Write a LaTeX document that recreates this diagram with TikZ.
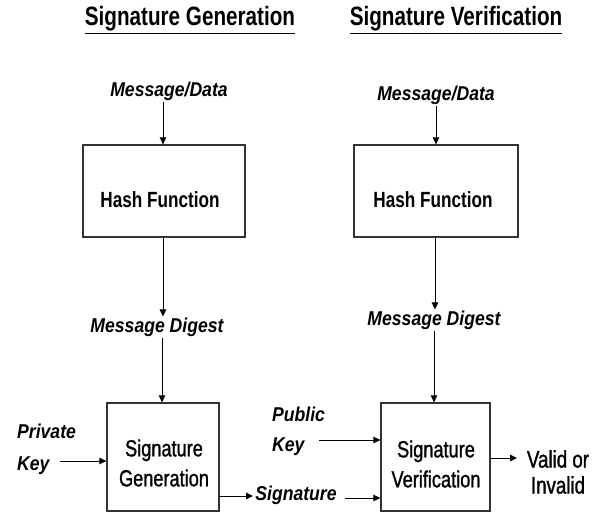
\documentclass[tikz,border=0pt]{standalone}
\usepackage{fontspec}
\setmainfont{Liberation Sans}[FakeStretch=0.78]
\newfontfamily\medfont{Liberation Sans}[FakeStretch=0.78,FakeBold=1.2]
\newfontfamily\lblfont{Liberation Sans}[FakeStretch=0.88]
\usetikzlibrary{arrows.meta}
\begin{document}
\begin{tikzpicture}[x=1pt,y=-1pt,
  box/.style={draw=black!80,line width=1.3pt,inner sep=0pt},
  arr/.style={line width=1pt,-{Triangle[length=7pt,width=6.5pt]}},
  lbl/.style={inner sep=1pt,font=\fontsize{20}{24}\lblfont\bfseries\itshape},
  ttl/.style={inner sep=0pt,font=\fontsize{26.5}{30}\selectfont\bfseries},
  htxt/.style={inner sep=0pt,font=\fontsize{22}{26}\selectfont\bfseries},
  btxt/.style={inner sep=0pt,font=\fontsize{23.3}{30}\medfont,align=center}]
\useasboundingbox (0,0) rectangle (604,514);
% titles
\node[ttl] (t1) at (190,20) {\underline{Signature Generation}};
\node[ttl] (t2) at (456,20) {\underline{Signature Verification}};
% left column
\node[lbl] (md1) at (169,91) {Message/Data};
\node[box,minimum width=162pt,minimum height=92pt] (h1) at (164,191) {};
\node[htxt] (h1t) at (160,200) {Hash Function};
\node[lbl] (d1) at (157,327) {Message Digest};
\node[box,minimum width=112pt,minimum height=108pt] (sg) at (163,457) {};
\node[btxt] (sgt) at (164,463) {Signature\\Generation};
% right column
\node[lbl] (md2) at (436,95) {Message/Data};
\node[box,minimum width=164pt,minimum height=92pt] (h2) at (436,191) {};
\node[htxt] (h2t) at (433,200) {Hash Function};
\node[lbl] (d2) at (434,320) {Message Digest};
\node[box,minimum width=109pt,minimum height=108pt] (sv) at (435.5,457) {};
\node[btxt] (svt) at (436,464) {Signature\\Verification};
% side labels
\node[lbl,align=left,anchor=west,font=\fontsize{20}{32}\lblfont\bfseries\itshape] (pk) at (16,449) {Private\\Key};
\node[lbl,align=left,anchor=west,font=\fontsize{20}{30}\lblfont\bfseries\itshape] (pub) at (271,431) {Public\\Key};
\node[lbl] (sig) at (296,495) {Signature};
\node[btxt,font=\fontsize{24}{26}\medfont] (vi) at (558,472) {Valid or\\Invalid};
% coordinates for free ends
\coordinate (pkE) at (60,461);
\coordinate (pubE) at (319,440);
\coordinate (sgO) at (219,496);
\coordinate (sgE) at (253,496);
\coordinate (sigE) at (345,498);
\coordinate (svO) at (490,458);
\coordinate (viE) at (517,458);
% arrows
\draw[arr] ([xshift=-1pt]md1.south -| h1.north) -- ([xshift=-1pt]h1.north);
\draw[arr] ([xshift=-1pt]h1.south) -- ([xshift=-1pt]h1.south |- d1.north);
\draw[arr] ([xshift=-1pt]d1.south -| sg.north) -- ([xshift=-1pt]sg.north);
\draw[arr] (md2.south -| h2.north) -- (h2.north);
\draw[arr] ([xshift=-1pt]h2.south) -- ([xshift=-1pt]h2.south |- d2.north);
\draw[arr] ([xshift=-1.5pt]d2.south -| sv.north) -- ([xshift=-1.5pt]sv.north);
\draw[arr] (pkE) -- (pkE -| sg.west);
\draw[arr] (pubE) -- (pubE -| sv.west);
\draw[arr] (sgO) -- (sgE);
\draw[arr] (sigE) -- (sigE -| sv.west);
\draw[arr] (svO) -- (viE);
\end{tikzpicture}
\end{document}
